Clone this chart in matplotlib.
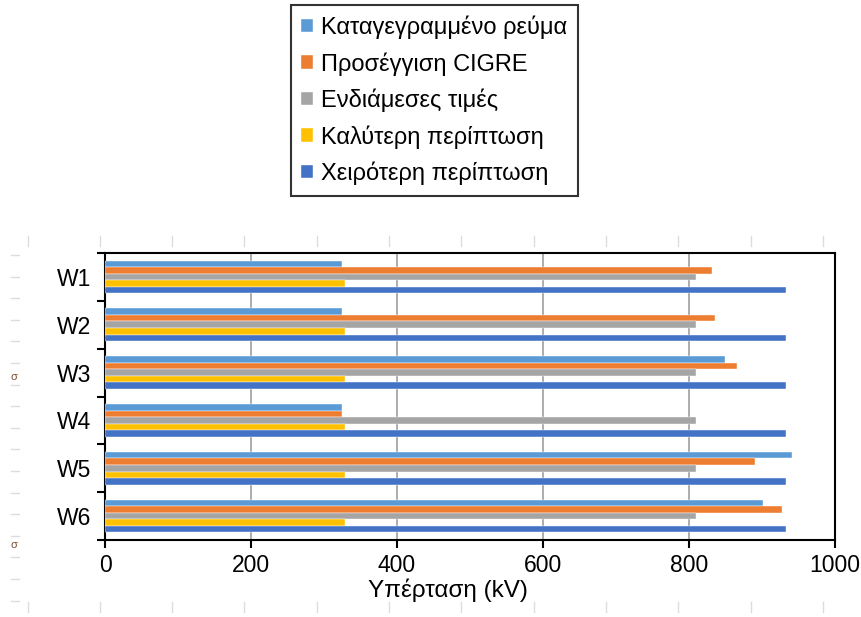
import matplotlib
matplotlib.use("Agg")
import matplotlib.pyplot as plt
import numpy as np
from matplotlib.lines import Line2D

# values (kV)
categories = ["W1", "W2", "W3", "W4", "W5", "W6"]
recorded = [325, 324, 849, 325, 941, 901]
cigre = [831, 836, 866, 325, 891, 927]
intermediate = [810, 810, 810, 810, 810, 810]
best_case = [329, 329, 329, 329, 329, 329]
worst_case = [933, 933, 933, 933, 933, 933]

labels = [
    "Καταγεγραμμένο ρεύμα",
    "Προσέγγιση CIGRE",
    "Ενδιάμεσες τιμές",
    "Καλύτερη περίπτωση",
    "Χειρότερη περίπτωση",
]
colors = ["#5B9BD5", "#ED7D31", "#A5A5A5", "#FFC000", "#4472C4"]
x_ticks = [0, 200, 400, 600, 800, 1000]

plt.rcParams["font.family"] = ["Liberation Sans", "DejaVu Sans"]

W, H = 861, 617
fig = plt.figure(figsize=(W / 100, H / 100), dpi=100)
ax = fig.add_axes([105 / W, 77 / H, 730 / W, 287 / H])

series = [recorded, cigre, intermediate, best_case, worst_case]
y = np.arange(len(categories))
h = 0.137
for j, vals in enumerate(series):
    ax.barh(y + (j - 2) * h, vals, height=h, color=colors[j],
            edgecolor="white", linewidth=0.3, label=labels[j], zorder=3)

ax.set_xlim(0, 1000)
ax.set_ylim(len(categories) - 0.5, -0.5)
ax.set_xticks(x_ticks)
ax.set_yticks(y, categories)
ax.set_yticks(np.arange(-0.5, len(categories), 1), minor=True)
ax.tick_params(axis="y", which="major", length=0, pad=10, labelsize=16.5)
ax.tick_params(axis="y", which="minor", length=6, width=1.5, direction="out")
ax.tick_params(axis="x", length=6, width=1.5, labelsize=16.5, pad=4)
ax.grid(axis="x", color="#a6a6a6", linewidth=1.3, zorder=0)
ax.set_axisbelow(True)
for s in ax.spines.values():
    s.set_linewidth(1.5)

ax.set_xlabel("Υπέρταση (kV)", fontsize=17.5)
ax.xaxis.set_label_coords(0.47, -0.135)

leg = fig.legend(loc="upper center", bbox_to_anchor=(434.5 / W, 1 - 5 / H),
                 borderaxespad=0, frameon=True, fancybox=False,
                 edgecolor="black", fontsize=17,
                 handlelength=0.5, handleheight=0.5, handletextpad=0.35,
                 labelspacing=0.55, borderpad=0.45)
leg.get_frame().set_linewidth(1.5)

# faint ruler marks left over from the source document
for k in range(12):
    xf = (27.6 + 72.3 * k) / W
    for y0, y1 in [(236, 246), (602, 612)]:
        fig.add_artist(Line2D([xf, xf], [1 - y0 / H, 1 - y1 / H],
                              transform=fig.transFigure, color="#dcdcdc", lw=1))
for k in range(17):
    yf = 1 - (255 + 21.6 * k) / H
    fig.add_artist(Line2D([11 / W, 19 / W], [yf, yf],
                          transform=fig.transFigure, color="#dcdcdc", lw=1))
for yy in [377, 545]:
    fig.text(14 / W, 1 - yy / H, "σ", fontsize=8, color="#7a4a2a",
             ha="center", va="center")

fig.savefig("out.png", dpi=100)
